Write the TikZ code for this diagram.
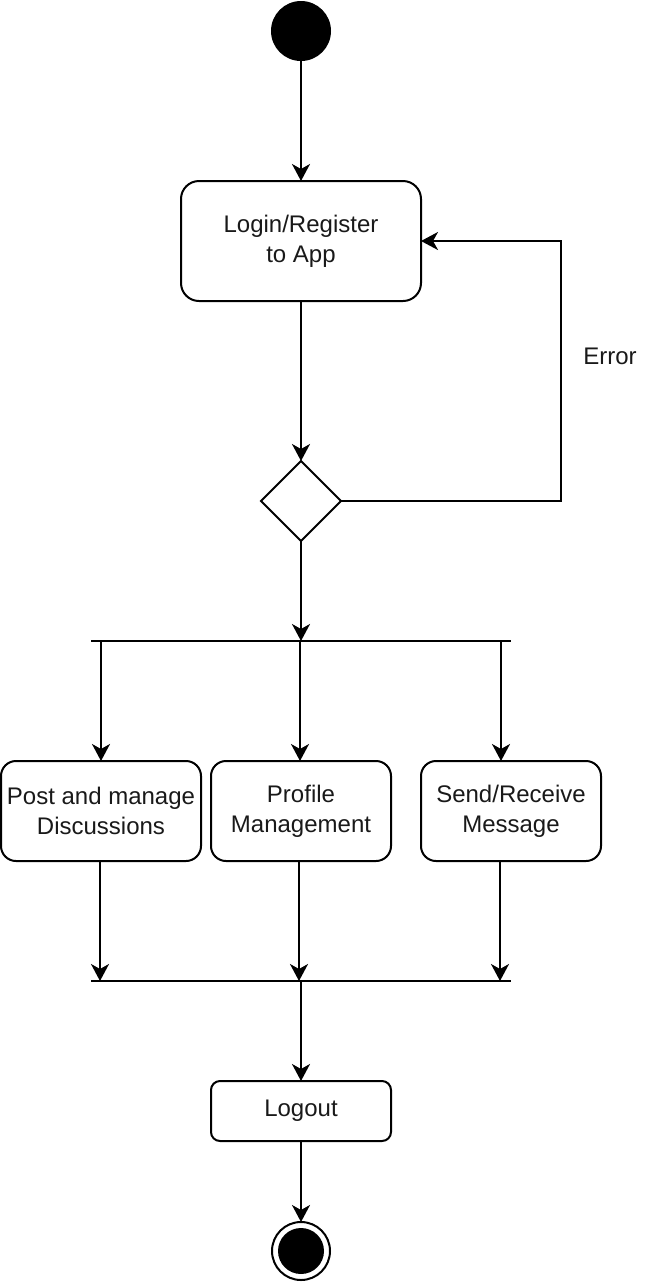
\documentclass[tikz,border=0pt]{standalone}
\usepackage{fontspec}
\setmainfont{Liberation Sans}
\usetikzlibrary{shapes.geometric,arrows.meta}

\begin{document}
\begin{tikzpicture}[x=0.5pt, y=-0.5pt, line width=1pt,
    every node/.style={font=\fontsize{12pt}{15pt}\selectfont, text=black!90, align=center, inner sep=0pt, outer sep=0pt},
    act/.style={draw, rounded corners=7.5pt, minimum width=100pt, minimum height=50pt},
    flow/.style={-{Stealth[length=8.5pt, width=9pt, inset=2.5pt]}}]
    \useasboundingbox (0,0) rectangle (672,1282);

    % Start and login
    \node[circle, fill=black, minimum size=30pt] (start) at (301,31) {};
    \node[act, minimum width=120pt, minimum height=60pt, rounded corners=9pt] (login) at (301,241) {Login/Register\\to App};
    \node[diamond, draw, minimum width=40pt, minimum height=40pt] (dec) at (301,501) {};
    \draw[flow] (start) -- (login);
    \draw[flow] (login) -- (dec);

    % Error loop back to login
    \draw[flow] (dec.east) -- ++(220,0) |- (login.east);
    \node (err) at (610,356) {Error};

    % Fork bar
    \coordinate (forkL) at (91,641);
    \coordinate (forkR) at (511,641);
    \draw (forkL) -- (forkR);
    \draw[flow] (dec.south) -- (dec.south |- forkL);

    % Activities
    \node[act] (post) at (101,811) {Post and manage\\Discussions};
    \node[act, minimum width=90pt] (prof) at (301,811) {Profile\\Management};
    \node[act, minimum width=90pt] (send) at (511,811) {Send/Receive\\Message};
    \foreach \i/\x/\b in {1/101/post, 2/300/prof, 3/501/send} {
        \coordinate (f\i) at (\x,641);
        \draw[flow] (f\i) -- (f\i |- \b.north);
    }

    % Join bar
    \coordinate (joinL) at (91,981);
    \coordinate (joinR) at (511,981);
    \draw (joinL) -- (joinR);
    \foreach \i/\x/\b in {1/100/post, 2/299/prof, 3/500/send} {
        \coordinate (j\i) at (\x,981);
        \draw[flow] (j\i |- \b.south) -- (j\i);
    }

    % Logout and end
    \node[act, minimum width=90pt, minimum height=30pt, rounded corners=4.5pt] (logout) at (301,1111) {Logout};
    \node[circle, draw, minimum size=29pt] (end) at (301,1251) {};
    \fill (end.center) circle (11.5pt);
    \draw[flow] (logout.north |- joinL) -- (logout);
    \draw[flow] (logout) -- (end);
\end{tikzpicture}
\end{document}
